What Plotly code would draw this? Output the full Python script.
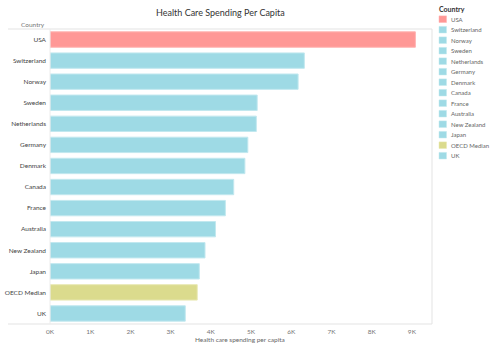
import plotly.graph_objects as go

# Health care spending per capita (USD)
countries = ["USA", "Switzerland", "Norway", "Sweden", "Netherlands", "Germany",
             "Denmark", "Canada", "France", "Australia", "New Zealand", "Japan",
             "OECD Median", "UK"]
spending = [9086, 6325, 6170, 5153, 5131, 4920, 4847, 4569, 4361, 4115, 3855,
            3713, 3661, 3364]
tick_values = [0, 1000, 2000, 3000, 4000, 5000, 6000, 7000, 8000, 9000]
tick_labels = ["0K", "1K", "2K", "3K", "4K", "5K", "6K", "7K", "8K", "9K"]

PINK, PINK_EDGE = "#ff9896", "#ffb3b1"
BLUE, BLUE_EDGE = "#9edae5", "#c2e8ef"
OLIVE, OLIVE_EDGE = "#dbdb8d", "#e8e8b3"


def colours(name):
    if name == "USA":
        return PINK, PINK_EDGE
    if name == "OECD Median":
        return OLIVE, OLIVE_EDGE
    return BLUE, BLUE_EDGE


FONT = "Lato"
W, H = 500, 346
L, R, T, B = 50, 68, 29, 22

fig = go.Figure()
for name, value in zip(countries, spending):
    fill, edge = colours(name)
    fig.add_trace(go.Bar(
        x=[value], y=[name], orientation="h", name=name,
        marker=dict(color=fill, line=dict(color=edge, width=1)),
        showlegend=False, hovertemplate="%{y}: %{x}<extra></extra>",
    ))

fig.update_layout(
    width=W, height=H,
    margin=dict(l=L, r=R, t=T, b=B),
    paper_bgcolor="white", plot_bgcolor="white",
    barmode="overlay", bargap=0.27,
    font=dict(family=FONT, size=7, color="#333"),
    xaxis=dict(range=[0, 9500], tickvals=tick_values, ticktext=tick_labels,
               showgrid=False, zeroline=False, showline=False, ticks="",
               tickfont=dict(size=6.5, color="#777"), ticklabelstandoff=2,
               automargin=False, fixedrange=True),
    yaxis=dict(categoryorder="array", categoryarray=countries,
               autorange="reversed", showgrid=False, zeroline=False,
               showline=False, ticks="", ticklabelstandoff=3,
               tickfont=dict(size=6.5, color="#444"), automargin=False,
               fixedrange=True),
)

line_col = "#e3e3e3"
x_left = (8 - L) / (W - L - R)
shapes = [
    dict(type="line", xref="paper", yref="paper", x0=x_left, x1=1, y0=1, y1=1,
         line=dict(color=line_col, width=1)),
    dict(type="line", xref="paper", yref="paper", x0=x_left, x1=1, y0=0, y1=0,
         line=dict(color=line_col, width=1)),
    dict(type="line", xref="paper", yref="paper", x0=1, x1=1, y0=0, y1=1,
         line=dict(color=line_col, width=1)),
    dict(type="line", xref="paper", yref="paper", x0=0, x1=0, y0=0, y1=1,
         line=dict(color="#ececec", width=1)),
]

pw, ph = W - L - R, H - T - B


def px_x(x):
    return (x - L) / pw


def px_y(y):
    return 1 - (y - T) / ph


annotations = [
    dict(text="Health Care Spending Per Capita", xref="paper", yref="paper",
         x=px_x(220), y=px_y(12), showarrow=False, xanchor="center",
         yanchor="middle", font=dict(size=9, color="#333", family=FONT)),
    dict(text="Country", xref="paper", yref="paper",
         x=px_x(47), y=px_y(24.5), showarrow=False, xanchor="right",
         yanchor="middle", font=dict(size=6.5, color="#777", family=FONT)),
    dict(text="Health care spending per capita", xref="paper", yref="paper",
         x=px_x(240), y=px_y(339), showarrow=False, xanchor="center",
         yanchor="middle", font=dict(size=6.5, color="#666", family=FONT)),
]

# Colour legend on the right
annotations.append(dict(text="<b>Country</b>", xref="paper", yref="paper",
                        x=px_x(437), y=px_y(9), showarrow=False,
                        xanchor="left", yanchor="middle",
                        font=dict(size=7, color="#333", family=FONT)))
for i, name in enumerate(countries):
    fill, edge = colours(name)
    yc = 19.2 + i * 10.5
    shapes.append(dict(type="rect", xref="paper", yref="paper",
                       x0=px_x(439), x1=px_x(446.5),
                       y0=px_y(yc - 3.3), y1=px_y(yc + 3.3),
                       fillcolor=fill, line=dict(color=edge, width=0.5)))
    annotations.append(dict(text=name, xref="paper", yref="paper",
                            x=px_x(449), y=px_y(yc), showarrow=False,
                            xanchor="left", yanchor="middle",
                            font=dict(size=6, color="#666", family=FONT)))

fig.update_layout(shapes=shapes, annotations=annotations)
fig.write_html("out.html")
